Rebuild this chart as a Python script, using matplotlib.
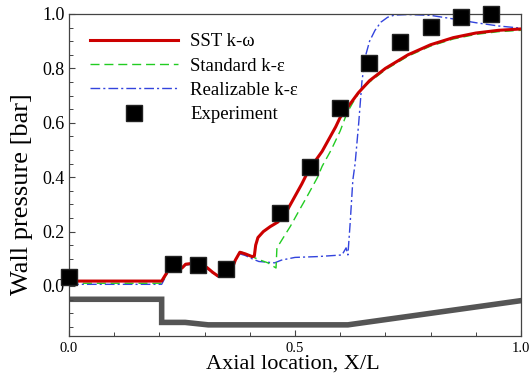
import numpy as np
import matplotlib.pyplot as plt
from matplotlib.ticker import MultipleLocator, FormatStrFormatter

plt.rcParams['font.family'] = ['Liberation Serif', 'DejaVu Serif']

# SST k-omega
x_sst = [0.0, 0.205, 0.215, 0.223, 0.24, 0.25, 0.258, 0.268, 0.28, 0.295, 0.305, 0.318, 0.33,
         0.345, 0.36, 0.368, 0.378, 0.39, 0.405, 0.41, 0.413, 0.418, 0.43, 0.445, 0.462, 0.48,
         0.5, 0.515, 0.53, 0.545, 0.56, 0.575, 0.59, 0.6, 0.62, 0.64, 0.665, 0.7, 0.75, 0.8,
         0.85, 0.9, 0.95, 1.0]
p_sst = [0.018, 0.018, 0.045, 0.068, 0.072, 0.066, 0.08, 0.082, 0.075, 0.072, 0.068, 0.05, 0.036,
         0.04, 0.06, 0.095, 0.124, 0.118, 0.108, 0.11, 0.15, 0.178, 0.2, 0.218, 0.235, 0.27,
         0.33, 0.375, 0.425, 0.46, 0.495, 0.54, 0.585, 0.62, 0.665, 0.71, 0.755, 0.8, 0.85, 0.887,
         0.913, 0.93, 0.94, 0.945]

# standard k-epsilon
x_ske = [0.0, 0.205, 0.215, 0.223, 0.24, 0.25, 0.258, 0.268, 0.28, 0.295, 0.305, 0.318, 0.33,
         0.345, 0.36, 0.368, 0.378, 0.39, 0.405, 0.42, 0.44, 0.458, 0.46, 0.475, 0.49, 0.51,
         0.526, 0.55, 0.56, 0.58, 0.6, 0.615, 0.63, 0.645, 0.665, 0.7, 0.75, 0.8, 0.85, 0.9,
         0.95, 1.0]
p_ske = [0.01, 0.01, 0.04, 0.066, 0.07, 0.064, 0.078, 0.08, 0.074, 0.071, 0.066, 0.048, 0.035,
         0.038, 0.06, 0.098, 0.126, 0.12, 0.108, 0.097, 0.085, 0.066, 0.14, 0.18, 0.22, 0.28,
         0.327, 0.4, 0.44, 0.5, 0.57, 0.636, 0.68, 0.72, 0.75, 0.795, 0.845, 0.882, 0.908, 0.925,
         0.935, 0.94]

# realizable k-epsilon
x_rke = [0.0, 0.205, 0.215, 0.223, 0.24, 0.25, 0.258, 0.268, 0.28, 0.295, 0.305, 0.318, 0.33,
         0.345, 0.36, 0.368, 0.378, 0.39, 0.405, 0.42, 0.455, 0.47, 0.5, 0.55, 0.604, 0.613,
         0.617, 0.622, 0.628, 0.633, 0.641, 0.648, 0.655, 0.665, 0.677, 0.69, 0.705, 0.72, 0.75,
         0.8, 0.85, 0.9, 0.95, 1.0]
p_rke = [0.006, 0.006, 0.038, 0.064, 0.07, 0.064, 0.077, 0.079, 0.073, 0.07, 0.065, 0.047, 0.034,
         0.037, 0.058, 0.094, 0.118, 0.112, 0.1, 0.09, 0.085, 0.095, 0.105, 0.108, 0.114, 0.14,
         0.114, 0.23, 0.39, 0.45, 0.6, 0.75, 0.84, 0.9, 0.94, 0.97, 0.988, 0.996, 0.998,
         0.995, 0.982, 0.968, 0.956, 0.948]

# measured wall pressure
x_exp = [0.0, 0.23, 0.285, 0.347, 0.467, 0.533, 0.6, 0.664, 0.732, 0.8, 0.867, 0.934]
p_exp = [0.033, 0.081, 0.078, 0.063, 0.267, 0.4375, 0.654, 0.82, 0.897, 0.952, 0.99, 1.0]

# nozzle wall outline (scaled)
x_wall = [0.0, 0.205, 0.205, 0.257, 0.308, 0.617, 1.0]
y_wall = [-0.049, -0.049, -0.134, -0.134, -0.143, -0.143, -0.054]

fig = plt.figure(figsize=(5.32, 3.76), dpi=100)
ax = fig.add_axes([69/532, 1 - 336/376, 452/532, 322/376])

ax.plot(x_wall, y_wall, color='#555555', lw=4.0, solid_joinstyle='miter', zorder=1)
ax.plot(x_sst, p_sst, color='#cc0000', lw=2.2, label='SST k-\u03c9', zorder=4)
ax.plot(x_ske, p_ske, color='#22cc22', lw=1.0, dashes=(6.5, 3.5), label='Standard k-\u03b5', zorder=3)
ax.plot(x_rke, p_rke, color='#3344dd', lw=1.0, dashes=(7, 2.2, 1.5, 2.2), label='Realizable k-\u03b5', zorder=2)
ax.plot(x_exp, p_exp, 's', color='black', ms=11, mec='#222222', label='Experiment',
        clip_on=False, zorder=6)

ax.set_xlim(0, 1.0)
ax.set_ylim(-0.184, 1.0)
ax.xaxis.set_major_locator(MultipleLocator(0.5))
ax.xaxis.set_minor_locator(MultipleLocator(0.1))
ax.yaxis.set_major_locator(MultipleLocator(0.2))
ax.yaxis.set_minor_locator(MultipleLocator(0.05))
ax.xaxis.set_major_formatter(FormatStrFormatter('%.1f'))
ax.yaxis.set_major_formatter(FormatStrFormatter('%.1f'))
ax.set_yticks([0.0, 0.2, 0.4, 0.6, 0.8, 1.0])
ax.tick_params(which='both', direction='in', color='#444444', top=False, right=False)
ax.tick_params(which='major', length=4.5, width=0.8)
ax.tick_params(which='minor', length=3, width=0.7)
ax.tick_params(axis='x', labelsize=10.5, pad=4)
ax.tick_params(axis='y', labelsize=13, pad=3)
for s in ax.spines.values():
    s.set_color('#444444')
    s.set_linewidth(0.9)

ax.set_xlabel('Axial location, X/L', fontsize=16)
ax.set_ylabel('Wall pressure [bar]', fontsize=19)
ax.xaxis.set_label_coords(0.496, -0.058)
ax.yaxis.set_label_coords(-0.08, 0.44)

ax.legend(loc='upper left', bbox_to_anchor=(0.046, 0.94), frameon=False, fontsize=13.5,
          handlelength=4.7, handletextpad=0.65, labelspacing=0.38, borderpad=0, borderaxespad=0)

fig.savefig('out.png', dpi=100)
